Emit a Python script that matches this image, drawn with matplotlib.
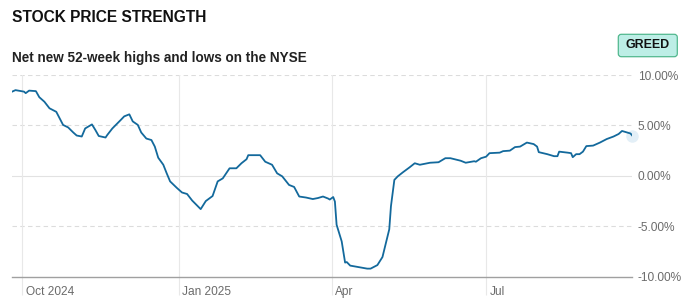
import datetime
import numpy as np
import matplotlib
matplotlib.use("Agg")
from matplotlib import pyplot as plt
import matplotlib.dates as mdates
from matplotlib.patches import FancyBboxPatch
from matplotlib.transforms import ScaledTranslation

# Net new 52-week highs and lows on the NYSE (%)
dates = [
    "2024-09-25", "2024-09-27", "2024-10-02", "2024-10-03", "2024-10-05", "2024-10-09",
    "2024-10-11", "2024-10-14", "2024-10-17", "2024-10-21", "2024-10-25", "2024-10-28",
    "2024-10-31", "2024-11-02", "2024-11-05", "2024-11-07", "2024-11-11", "2024-11-13",
    "2024-11-15", "2024-11-19", "2024-11-20", "2024-11-23", "2024-11-28", "2024-11-30",
    "2024-12-03", "2024-12-05", "2024-12-08", "2024-12-10", "2024-12-13", "2024-12-16",
    "2024-12-18", "2024-12-20", "2024-12-23", "2024-12-25", "2024-12-27", "2024-12-31",
    "2025-01-03", "2025-01-06", "2025-01-09", "2025-01-14", "2025-01-17", "2025-01-21",
    "2025-01-24", "2025-01-27", "2025-01-31", "2025-02-04", "2025-02-07", "2025-02-10",
    "2025-02-11", "2025-02-18", "2025-02-21", "2025-02-25", "2025-02-28", "2025-03-03",
    "2025-03-07", "2025-03-10", "2025-03-13", "2025-03-17", "2025-03-21", "2025-03-24",
    "2025-03-27", "2025-03-30", "2025-03-31", "2025-04-02", "2025-04-03", "2025-04-04",
    "2025-04-07", "2025-04-09", "2025-04-10", "2025-04-12", "2025-04-17", "2025-04-22",
    "2025-04-24", "2025-04-28", "2025-05-01", "2025-05-05", "2025-05-06", "2025-05-08",
    "2025-05-10", "2025-05-13", "2025-05-17", "2025-05-20", "2025-05-23", "2025-05-29",
    "2025-06-03", "2025-06-07", "2025-06-10", "2025-06-16", "2025-06-19", "2025-06-24",
    "2025-06-25", "2025-06-28", "2025-07-01", "2025-07-03", "2025-07-09", "2025-07-11",
    "2025-07-15", "2025-07-18", "2025-07-21", "2025-07-25", "2025-07-29", "2025-07-31",
    "2025-08-01", "2025-08-06", "2025-08-10", "2025-08-12", "2025-08-13", "2025-08-18",
    "2025-08-20", "2025-08-21", "2025-08-23", "2025-08-25", "2025-08-27", "2025-08-29",
    "2025-09-02", "2025-09-06", "2025-09-10", "2025-09-14", "2025-09-17", "2025-09-19",
    "2025-09-22", "2025-09-24", "2025-09-25",
]
values = [
    8.35, 8.5, 8.35, 8.2, 8.45, 8.4,
    7.8, 7.35, 6.7, 6.35, 5.05, 4.8,
    4.3, 4.0, 3.9, 4.7, 5.1, 4.55,
    3.95, 3.8, 4.05, 4.7, 5.55, 5.9,
    6.1, 5.4, 5.05, 4.3, 3.7, 3.55,
    2.9, 1.8, 1.1, 0.25, -0.55, -1.2,
    -1.65, -1.8, -2.45, -3.3, -2.5, -2.0,
    -0.55, -0.25, 0.75, 0.75, 1.25, 1.65,
    2.05, 2.05, 1.4, 1.1, 0.25, -0.05,
    -0.9, -1.1, -2.05, -2.15, -2.3, -2.2,
    -2.05, -2.25, -2.35, -2.1, -2.55, -4.85,
    -6.5, -8.6, -8.55, -8.9, -9.05, -9.2,
    -9.2, -8.85, -8.05, -5.3, -3.0, -0.4,
    -0.05, 0.35, 0.85, 1.25, 1.1, 1.3,
    1.35, 1.75, 1.75, 1.5, 1.3, 1.45,
    1.4, 1.75, 1.9, 2.25, 2.3, 2.45,
    2.5, 2.85, 2.9, 3.3, 3.15, 2.9,
    2.35, 2.15, 1.95, 1.95, 2.4, 2.3,
    2.25, 1.85, 2.15, 2.15, 2.4, 2.95,
    3.0, 3.3, 3.65, 3.9, 4.15, 4.45,
    4.3, 4.2, 4.0,
]
xtick_dates = ["2024-10-01", "2025-01-01", "2025-04-01", "2025-07-01"]
xtick_labels = ["Oct 2024", "Jan 2025", "Apr", "Jul"]
yticks = [-10, -5, 0, 5, 10]
ytick_labels = ["-10.00%", "-5.00%", "0.00%", "5.00%", "10.00%"]

title = "STOCK PRICE STRENGTH"
subtitle = "Net new 52-week highs and lows on the NYSE"
badge = "GREED"

plt.rcParams['font.family'] = ['Liberation Sans', 'DejaVu Sans']

W, H = 696, 303
fig = plt.figure(figsize=(W / 100, H / 100), dpi=100)

# plot area in pixels: x 11.7..631.7, y 75..276.7 (from top)
ax = fig.add_axes([11.7 / W, (H - 276.7) / H, 620 / W, 201.7 / H])

x = [datetime.datetime.strptime(d, "%Y-%m-%d") for d in dates]
xt = [datetime.datetime.strptime(d, "%Y-%m-%d") for d in xtick_dates]

line_color = "#13699c"
ax.plot(x, values, color=line_color, lw=1.3, solid_joinstyle="round", zorder=3)
# pale hover dot at the end
ax.plot(x[-1], values[-1], "o", ms=9, color="#e3eff7", mec="none", zorder=2,
        clip_on=False)

oct1 = mdates.date2num(xt[0])
ax.set_xlim(oct1 - 6.24, oct1 + 358.7)
ax.set_ylim(-10, 10)

# horizontal grid
for v in yticks:
    if v == -10:
        continue
    if v == 0:
        ax.axhline(v, color="#e2e2e2", lw=0.8, zorder=1)
    else:
        ax.axhline(v, color="#dcdcdc", lw=0.8, dashes=(4, 3), zorder=1)

# vertical grid
for d in xt:
    ax.axvline(d, color="#e8e8e8", lw=0.8, zorder=1)

for s in ["top", "right", "left"]:
    ax.spines[s].set_visible(False)
ax.spines["bottom"].set_color("#a0a0a0")
ax.spines["bottom"].set_linewidth(1.0)

ax.set_xticks(xt)
ax.set_xticklabels(xtick_labels)
ax.tick_params(axis="x", length=13, width=0.8, color="#e8e8e8", pad=-6.5,
               labelsize=8.6, labelcolor="#6b6b6b")
shift = ScaledTranslation(3.7 / 100, 0, fig.dpi_scale_trans)
for lab in ax.get_xticklabels():
    lab.set_horizontalalignment("left")
    lab.set_transform(lab.get_transform() + shift)

ax.yaxis.tick_right()
ax.set_yticks(yticks)
ax.set_yticklabels(ytick_labels)
ax.tick_params(axis="y", length=0, pad=4.5, labelsize=8.6, labelcolor="#6b6b6b")

# titles
fig.text(11.7 / W, 1 - 22 / H, title, fontsize=11.2, fontweight="bold",
         color="#111111", va="baseline")
fig.text(11.7 / W, 1 - 61.7 / H, subtitle, fontsize=9.75, fontweight="bold",
         color="#222222", va="baseline")

# badge
box = FancyBboxPatch((6.183, (H - 56.7) / 100), 0.59, 0.224,
                     boxstyle="round,pad=0,rounding_size=0.03",
                     transform=fig.dpi_scale_trans, facecolor="#bdeee6",
                     edgecolor="#52b88e", lw=0.9)
fig.patches.append(box)
fig.text(6.478, (H - 45.5) / 100, badge, transform=fig.dpi_scale_trans,
         fontsize=8.9, fontweight="bold", color="#111111", ha="center", va="center")

fig.savefig("out.png", dpi=100)
